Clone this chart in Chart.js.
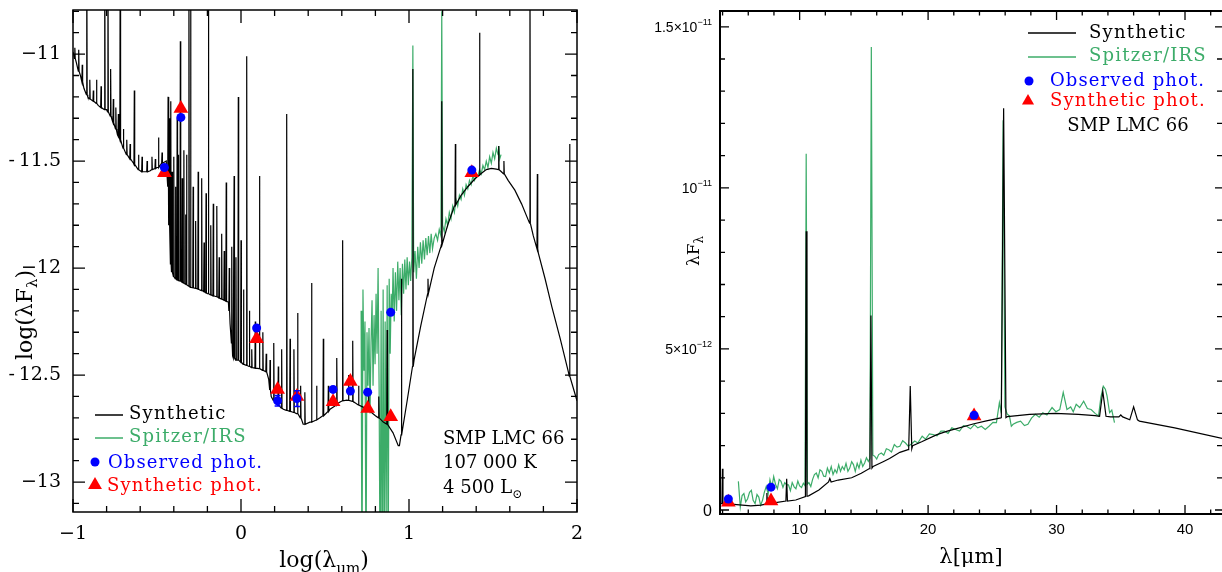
<!DOCTYPE html>
<html><head><meta charset="utf-8">
<script src="https://cdn.jsdelivr.net/npm/chart.js@4.4.1/dist/chart.umd.min.js"></script>
<style>
html,body{margin:0;padding:0;background:#fff;overflow:hidden;width:1222px;height:572px;}
canvas{position:absolute;top:0;}
#c1{left:0;width:600px;height:572px;}
#c2{left:620px;width:602px;height:572px;}
</style></head><body>
<canvas id="c1" width="600" height="572"></canvas>
<canvas id="c2" width="602" height="572"></canvas>
<script>
// ================= LEFT PANEL DATA (log lambda [um], log lambda F_lambda) =================
const leftContLogLam = [-1.000,-0.980,-0.956,-0.935,-0.912,-0.880,-0.850,-0.800,-0.770,-0.740,-0.710,-0.680,-0.640,-0.610,-0.580,-0.540,-0.500,-0.470,-0.445,-0.435,-0.425,-0.415,-0.400,-0.375,-0.340,-0.297,-0.250,-0.200,-0.145,-0.100,-0.075,-0.065,-0.050,-0.046,0.000,0.054,0.110,0.153,0.165,0.180,0.220,0.252,0.330,0.370,0.410,0.470,0.530,0.580,0.630,0.670,0.727,0.749,0.800,0.847,0.870,0.905,0.936,0.943,0.989,1.030,1.070,1.113,1.150,1.190,1.230,1.270,1.310,1.350,1.390,1.430,1.460,1.490,1.520,1.550,1.590,1.630,1.670,1.710,1.740,1.770,1.810,1.850,1.900,1.950,2.000,2.020];
const leftContLogFlux = [-10.99,-11.04,-11.10,-11.16,-11.20,-11.22,-11.24,-11.26,-11.30,-11.36,-11.42,-11.47,-11.51,-11.54,-11.55,-11.545,-11.53,-11.51,-11.50,-11.60,-11.85,-12.01,-12.04,-12.056,-12.07,-12.09,-12.10,-12.12,-12.134,-12.15,-12.16,-12.26,-12.41,-12.42,-12.44,-12.46,-12.47,-12.485,-12.52,-12.60,-12.64,-12.66,-12.68,-12.73,-12.72,-12.70,-12.66,-12.63,-12.617,-12.625,-12.65,-12.66,-12.69,-12.72,-12.73,-12.77,-12.83,-12.83,-12.62,-12.43,-12.27,-12.12,-12.00,-11.90,-11.80,-11.71,-11.66,-11.62,-11.585,-11.558,-11.54,-11.534,-11.538,-11.55,-11.59,-11.636,-11.70,-11.776,-11.85,-11.93,-12.05,-12.18,-12.33,-12.49,-12.62,-12.68];
// emission lines: position, underlying level, peak level
const leftLineLogLam = [-0.989,-0.966,-0.945,-0.918,-0.900,-0.879,-0.860,-0.833,-0.811,-0.792,-0.776,-0.760,-0.745,-0.730,-0.719,-0.700,-0.680,-0.660,-0.635,-0.610,-0.589,-0.559,-0.530,-0.510,-0.491,-0.470,-0.434,-0.427,-0.418,-0.410,-0.400,-0.390,-0.380,-0.372,-0.361,-0.350,-0.340,-0.330,-0.324,-0.310,-0.300,-0.285,-0.270,-0.255,-0.234,-0.220,-0.208,-0.194,-0.180,-0.165,-0.144,-0.130,-0.115,-0.100,-0.088,-0.070,-0.055,-0.041,-0.030,-0.016,0.000,0.015,0.034,0.050,0.064,0.085,0.110,0.130,0.150,0.173,0.195,0.222,0.242,0.272,0.292,0.315,0.337,0.355,0.380,0.420,0.450,0.490,0.520,0.570,0.605,0.640,0.665,0.700,0.760,0.820,0.870,0.955,1.023,1.113,1.195,1.276,1.420,1.534,1.565,1.720,1.764,1.956];
const leftLineBase = [-11.02,-11.08,-11.13,-11.19,-11.21,-11.22,-11.23,-11.25,-11.26,-11.27,-11.29,-11.32,-11.35,-11.38,-11.40,-11.44,-11.47,-11.49,-11.515,-11.54,-11.55,-11.55,-11.54,-11.535,-11.53,-11.51,-11.62,-11.80,-11.98,-12.02,-12.04,-12.05,-12.055,-12.058,-12.06,-12.065,-12.07,-12.075,-12.078,-12.085,-12.09,-12.092,-12.095,-12.098,-12.105,-12.11,-12.115,-12.12,-12.125,-12.13,-12.134,-12.14,-12.145,-12.15,-12.155,-12.20,-12.35,-12.42,-12.43,-12.43,-12.44,-12.45,-12.455,-12.46,-12.465,-12.468,-12.47,-12.478,-12.485,-12.57,-12.62,-12.64,-12.655,-12.665,-12.67,-12.675,-12.68,-12.70,-12.73,-12.72,-12.71,-12.69,-12.67,-12.64,-12.62,-12.618,-12.623,-12.64,-12.665,-12.70,-12.73,-12.78,-12.46,-12.12,-11.89,-11.705,-11.565,-11.54,-11.56,-11.79,-11.91,-12.505];
const leftLinePeak = [-10.97,-10.98,-11.05,-10.5,-11.12,-11.17,-11.12,-11.15,-10.5,-10.5,-11.07,-11.21,-11.25,-11.28,-10.5,-11.35,-11.40,-11.42,-11.17,-11.47,-11.48,-11.50,-11.48,-11.49,-11.39,-11.46,-11.20,-11.30,-11.22,-11.55,-11.48,-11.62,-11.30,-11.47,-10.94,-11.58,-11.45,-11.75,-11.47,-10.5,-10.5,-11.62,-11.78,-11.55,-11.58,-11.88,-11.65,-10.5,-11.80,-11.70,-11.71,-11.95,-11.84,-11.92,-11.60,-12.00,-11.90,-11.57,-11.95,-11.20,-11.87,-12.10,-11.01,-12.20,-12.38,-12.25,-11.57,-12.30,-12.40,-12.43,-12.35,-12.46,-12.38,-11.28,-12.33,-12.38,-12.21,-12.55,-12.58,-12.07,-12.55,-12.33,-12.55,-12.42,-11.87,-12.50,-12.34,-12.55,-12.58,-12.60,-12.29,-12.05,-11.07,-12.05,-11.22,-11.42,-10.90,-11.43,-11.50,-10.5,-11.56,-11.42];
// Spitzer/IRS spectrum in log units
const leftIrsLogLam = [0.715,0.720,0.726,0.732,0.738,0.744,0.750,0.756,0.762,0.768,0.774,0.780,0.786,0.792,0.798,0.804,0.810,0.816,0.822,0.828,0.834,0.840,0.846,0.852,0.858,0.864,0.870,0.876,0.882,0.888,0.894,0.900,0.905,0.912,0.919,0.926,0.933,0.940,0.947,0.954,0.961,0.968,0.975,0.982,0.989,0.996,1.003,1.010,1.017,1.023,1.028,1.036,1.044,1.052,1.060,1.068,1.076,1.084,1.092,1.100,1.108,1.116,1.124,1.132,1.140,1.150,1.160,1.170,1.180,1.190,1.195,1.200,1.210,1.220,1.230,1.240,1.250,1.260,1.270,1.280,1.290,1.300,1.310,1.320,1.330,1.340,1.350,1.360,1.370,1.380,1.390,1.400,1.410,1.420,1.430,1.440,1.450,1.460,1.470,1.480,1.490,1.500,1.510,1.520,1.530,1.535,1.540,1.548];
const leftIrsLogFlux = [-12.20,-13.5,-12.10,-12.48,-12.25,-13.5,-12.30,-12.55,-12.28,-12.68,-12.35,-12.15,-12.55,-12.22,-12.45,-12.12,-12.40,-12.00,-12.55,-13.5,-12.20,-13.5,-12.10,-13.5,-12.25,-13.2,-12.08,-13.5,-12.05,-12.40,-12.12,-12.22,-12.00,-12.25,-12.02,-12.20,-11.97,-12.15,-12.00,-12.22,-11.98,-12.12,-11.96,-12.10,-11.95,-12.08,-11.97,-12.06,-11.95,-10.96,-12.02,-11.92,-12.05,-11.90,-12.00,-11.88,-11.98,-11.87,-11.96,-11.86,-11.94,-11.85,-11.93,-11.84,-11.91,-11.86,-11.84,-11.87,-11.82,-11.85,-10.80,-11.80,-11.83,-11.77,-11.80,-11.74,-11.77,-11.71,-11.74,-11.68,-11.71,-11.66,-11.68,-11.63,-11.66,-11.61,-11.63,-11.59,-11.61,-11.57,-11.59,-11.56,-11.57,-11.54,-11.56,-11.52,-11.54,-11.50,-11.53,-11.48,-11.51,-11.46,-11.49,-11.44,-11.47,-11.43,-11.49,-11.47];
// photometry
const leftPhotLogLam = [-0.456,-0.358,0.093,0.218,0.333,0.548,0.651,0.754,0.891,1.374];
const leftObsLogFlux = [-11.53,-11.296,-12.28,-12.62,-12.61,-12.567,-12.575,-12.58,-12.207,-11.542];
const leftObsErr     = [0,0,0,0.025,0.037,0,0,0,0,0];
const leftSynLogFlux = [-11.555,-11.254,-12.33,-12.567,-12.60,-12.625,-12.53,-12.656,-12.695,-11.555];
const leftXTicks = [-1,0,1,2];
const leftXTickLabels = ['\u22121','0','1','2'];
const leftYTicks = [-11,-11.5,-12,-12.5,-13];
const leftYTickLabels = ['\u221211','-\u200911.5','\u221212','-\u200912.5','\u221213'];

// ================= RIGHT PANEL DATA (lambda [um], lambda F_lambda in 1e-12 units) =================
const rightContLam = [3.80,4.50,5.10,6.20,7.00,7.40,8.00,9.00,9.70,10.45,10.70,11.50,12.30,13.00,14.05,14.80,15.40,15.72,16.50,17.00,17.80,18.44,18.80,19.50,20.69,21.50,22.43,23.50,24.45,25.66,26.18,27.90,29.90,31.70,33.00,34.20,35.00,35.72,36.45,39.20,42.90];
const rightContFlux = [0.20,0.19,0.17,0.13,0.15,0.19,0.22,0.28,0.31,0.42,0.44,0.62,0.86,0.93,1.00,1.14,1.28,1.35,1.50,1.60,1.79,1.875,2.00,2.12,2.34,2.45,2.55,2.67,2.76,2.86,2.90,2.97,3.00,2.97,2.93,2.89,2.89,2.81,2.76,2.55,2.22];
const rightLineLam  = [3.99,7.45,8.99,10.51,12.35,15.55,18.61,25.88,33.60,35.00,36.00];
const rightLineBase = [0.20,0.19,0.28,0.43,0.87,1.30,1.90,2.87,2.91,2.89,2.80];
const rightLinePeak = [1.28,0.53,0.97,8.65,0.98,6.04,3.85,12.47,3.69,2.95,3.20];
const rightLineHalfWidth = [0.04,0.05,0.06,0.06,0.10,0.08,0.12,0.18,0.25,0.15,0.30];
const rightIrsLam = [5.23,5.38,5.52,5.66,5.80,5.95,6.10,6.24,6.38,6.53,6.68,6.82,6.96,7.11,7.25,7.40,7.55,7.69,7.84,7.98,8.12,8.27,8.41,8.55,8.70,8.84,8.99,9.13,9.28,9.42,9.57,9.71,9.86,10.00,10.15,10.29,10.42,10.51,10.60,10.72,10.87,11.01,11.15,11.30,11.44,11.58,11.73,11.87,12.02,12.16,12.31,12.46,12.60,12.75,12.89,13.04,13.18,13.32,13.47,13.61,13.76,13.90,14.05,14.19,14.33,14.48,14.62,14.77,14.91,15.06,15.20,15.35,15.47,15.58,15.70,15.84,16.00,16.15,16.36,16.55,16.75,16.94,17.15,17.37,17.58,17.80,18.02,18.24,18.45,18.70,18.96,19.20,19.54,19.80,20.10,20.40,20.70,21.00,21.27,21.55,21.85,22.14,22.45,22.75,23.00,23.30,23.60,23.87,24.15,24.45,24.74,25.05,25.32,25.55,25.70,25.84,25.98,26.15,26.33,26.48,26.62,26.90,27.20,27.50,27.77,28.05,28.35,28.65,28.93,29.25,29.65,29.95,30.25,30.52,30.81,31.10,31.30,31.53,31.80,32.11,32.40,32.69,33.00,33.27,33.45,33.64,33.80,33.93,34.13,34.30,34.51];
const rightIrsFlux = [0.89,0.09,0.45,0.51,0.25,0.35,0.55,0.61,0.30,0.20,0.48,0.40,0.15,0.30,0.55,0.73,0.50,0.94,0.70,1.04,0.80,0.66,0.95,0.89,0.70,0.85,0.78,0.78,0.60,0.85,0.72,0.66,0.90,0.75,0.70,0.83,0.75,11.06,0.80,0.85,0.73,0.95,1.10,1.15,1.00,1.25,1.20,1.05,1.04,1.30,1.15,1.35,1.10,1.25,1.15,1.40,1.20,1.35,1.25,1.45,1.20,1.30,1.50,1.41,1.20,1.45,1.30,1.55,1.35,1.46,1.62,1.51,1.60,14.37,1.70,1.67,1.58,1.72,1.77,1.70,1.90,1.87,1.80,2.03,1.95,1.98,2.15,2.08,1.98,2.05,2.14,2.08,2.29,2.20,2.36,2.34,2.30,2.45,2.45,2.38,2.55,2.50,2.45,2.62,2.60,2.52,2.65,2.55,2.60,2.50,2.60,2.72,2.71,3.33,3.00,12.10,3.20,2.98,2.92,2.60,2.66,2.72,2.76,2.62,2.66,2.85,2.97,2.88,3.02,2.95,3.18,3.05,3.12,3.65,3.12,3.20,3.05,3.28,3.18,3.38,3.15,3.12,3.00,2.92,3.50,3.84,3.75,3.54,3.02,3.10,2.71];
const rightPhotLam = [4.45,7.77,23.58];
const rightObsFlux = [0.34,0.71,2.94];
const rightSynFlux = [0.24,0.28,2.92];
const rightXTicks = [10,20,30,40];
const rightYTicks = [0,5,10,15];
const rightYTickMant = ['0','5\u00d710','10','1.5\u00d710'];
const rightYTickExp  = ['','\u221212','\u221211','\u221211'];

// ================= helpers =================
const GREEN = 'rgb(60,172,105)';
const SERIF = '"DejaVu Serif", serif';
const SANS = '"Liberation Sans", Arial, sans-serif';

function buildSpectrum(cx, cy, lx, lb, lp, hw) {
  const pts = [];
  for (let i = 0; i < cx.length; i++) {
    let inside = false;
    for (let j = 0; j < lx.length; j++) if (Math.abs(cx[i] - lx[j]) < hw[j]) { inside = true; break; }
    if (!inside) pts.push({x: cx[i], y: cy[i]});
  }
  for (let j = 0; j < lx.length; j++) {
    pts.push({x: lx[j] - hw[j], y: lb[j]});
    pts.push({x: lx[j], y: lp[j]});
    pts.push({x: lx[j] + hw[j], y: lb[j]});
  }
  pts.sort((a, b) => a.x - b.x);
  return pts;
}
const zip = (xs, ys) => xs.map((x, i) => ({x, y: ys[i]}));

function drawParts(ctx, parts, x, y, align) {
  let w = 0;
  parts.forEach(p => { ctx.font = p.font; p.w = ctx.measureText(p.t).width; w += p.w; });
  let sx = align === 'center' ? x - w / 2 : align === 'right' ? x - w : x;
  ctx.textAlign = 'left';
  parts.forEach(p => { ctx.font = p.font; ctx.fillText(p.t, sx, y + (p.dy || 0)); sx += p.w; });
}
function tri(ctx, x, y, r) {
  ctx.beginPath();
  ctx.moveTo(x, y - r);
  ctx.lineTo(x + r * 0.866, y + r * 0.5);
  ctx.lineTo(x - r * 0.866, y + r * 0.5);
  ctx.closePath(); ctx.fill();
}
function spaced(ctx, s, x, y, sp) {
  ctx.letterSpacing = sp; ctx.fillText(s, x, y); ctx.letterSpacing = '0px';
}

function baseOptions(xmin, xmax, ymin, ymax, pad, yW, xH) {
  return {
    responsive: false, animation: false, devicePixelRatio: 1, events: [],
    layout: {padding: pad, autoPadding: false},
    plugins: {legend: {display: false}, tooltip: {enabled: false}},
    scales: {
      x: {type: 'linear', min: xmin, max: xmax, grid: {display: false, drawTicks: false}, border: {display: false}, ticks: {display: false}, afterFit(s) { s.height = xH; }},
      y: {type: 'linear', min: ymin, max: ymax, grid: {display: false, drawTicks: false}, border: {display: false}, ticks: {display: false}, afterFit(s) { s.width = yW; }}
    }
  };
}

// ================= LEFT CHART =================
const leftSynth = buildSpectrum(leftContLogLam, leftContLogFlux, leftLineLogLam, leftLineBase, leftLinePeak, leftLineLogLam.map(() => 0.0022));
const leftPlugin = {
  id: 'leftDecor',
  afterDatasetsDraw(chart) {
    const ctx = chart.ctx, a = chart.chartArea, xs = chart.scales.x, ys = chart.scales.y;
    ctx.save();
    ctx.strokeStyle = '#0000ff'; ctx.lineWidth = 1.5;
    leftPhotLogLam.forEach((v, i) => {
      if (!leftObsErr[i]) return;
      const px = xs.getPixelForValue(v);
      const y1 = ys.getPixelForValue(leftObsLogFlux[i] - leftObsErr[i]);
      const y2 = ys.getPixelForValue(leftObsLogFlux[i] + leftObsErr[i]);
      ctx.beginPath(); ctx.moveTo(px, y1); ctx.lineTo(px, y2);
      ctx.moveTo(px - 3, y1); ctx.lineTo(px + 3, y1); ctx.moveTo(px - 3, y2); ctx.lineTo(px + 3, y2); ctx.stroke();
    });
    ctx.strokeStyle = '#000'; ctx.lineWidth = 1.5;
    ctx.strokeRect(a.left, a.top, a.right - a.left, a.bottom - a.top);
    ctx.lineWidth = 1.3;
    ctx.beginPath();
    for (let k = -5; k <= 10; k++) {
      const v = k / 5; const px = xs.getPixelForValue(v);
      if (px < a.left - 0.5 || px > a.right + 0.5) continue;
      const L = (k % 5 === 0) ? 13 : 6;
      ctx.moveTo(px, a.bottom); ctx.lineTo(px, a.bottom - L);
      ctx.moveTo(px, a.top); ctx.lineTo(px, a.top + L);
    }
    for (let k = -131; k <= -108; k++) {
      const v = k / 10; const py = ys.getPixelForValue(v);
      if (py < a.top || py > a.bottom) continue;
      const L = (k % 5 === 0) ? 12 : 6;
      ctx.moveTo(a.left, py); ctx.lineTo(a.left + L, py);
      ctx.moveTo(a.right, py); ctx.lineTo(a.right - L, py);
    }
    ctx.stroke();
    ctx.fillStyle = '#000'; ctx.font = '19px ' + SERIF; ctx.textBaseline = 'middle';
    ctx.textAlign = 'center';
    leftXTicks.forEach((v, i) => ctx.fillText(leftXTickLabels[i], xs.getPixelForValue(v), 534));
    ctx.textAlign = 'right';
    leftYTicks.forEach((v, i) => ctx.fillText(leftYTickLabels[i], 61, ys.getPixelForValue(v)));
    ctx.textBaseline = 'alphabetic';
    drawParts(ctx, [{t: 'log(\u03bb', font: '22px ' + SERIF}, {t: '\u03bcm', font: '15px ' + SERIF, dy: 6}, {t: ')', font: '22px ' + SERIF}], 324, 567, 'center');
    ctx.save(); ctx.translate(24, 315); ctx.rotate(-Math.PI / 2);
    drawParts(ctx, [{t: 'log(\u03bbF', font: '22px ' + SERIF}, {t: '\u03bb', font: '15px ' + SERIF, dy: 5}, {t: ')', font: '22px ' + SERIF}], 0, 8, 'center');
    ctx.restore();
    // legend
    ctx.lineWidth = 1.5;
    ctx.strokeStyle = '#000'; ctx.beginPath(); ctx.moveTo(95, 415); ctx.lineTo(123, 415); ctx.stroke();
    ctx.strokeStyle = GREEN; ctx.beginPath(); ctx.moveTo(95, 438); ctx.lineTo(123, 438); ctx.stroke();
    ctx.fillStyle = '#0000ff'; ctx.beginPath(); ctx.arc(95, 462, 4.5, 0, Math.PI * 2); ctx.fill();
    ctx.fillStyle = '#ff0000'; tri(ctx, 95, 485, 8);
    ctx.textBaseline = 'middle'; ctx.textAlign = 'left'; ctx.font = '18px ' + SERIF;
    ctx.fillStyle = '#000'; spaced(ctx, 'Synthetic', 129, 414, '1.2px');
    ctx.fillStyle = GREEN; spaced(ctx, 'Spitzer/IRS', 129, 437, '1.2px');
    ctx.fillStyle = '#0000ff'; spaced(ctx, 'Observed phot.', 108, 463, '1.1px');
    ctx.fillStyle = '#ff0000'; spaced(ctx, 'Synthetic phot.', 107, 486, '1.1px');
    ctx.fillStyle = '#000';
    ctx.fillText('SMP LMC 66', 443, 439);
    ctx.fillText('107 000 K', 443, 463);
    ctx.textBaseline = 'alphabetic';
    drawParts(ctx, [{t: '4 500 L', font: '18px ' + SERIF}, {t: '\u2299', font: '12px ' + SERIF, dy: 5}], 443, 493, 'left');
    ctx.restore();
  }
};
new Chart(document.getElementById('c1'), {
  type: 'scatter',
  data: {datasets: [
    {data: zip(leftPhotLogLam, leftObsLogFlux), pointStyle: 'circle', pointRadius: 4.5, backgroundColor: '#0000ff', borderWidth: 0, order: 0},
    {data: zip(leftPhotLogLam, leftSynLogFlux), pointStyle: 'triangle', pointRadius: 8.5, backgroundColor: '#ff0000', borderWidth: 0, order: 1},
    {data: leftSynth, showLine: true, pointRadius: 0, borderColor: '#000', borderWidth: 1.2, tension: 0, clip: 0, order: 2},
    {data: zip(leftIrsLogLam, leftIrsLogFlux), showLine: true, pointRadius: 0, borderColor: GREEN, borderWidth: 1.2, tension: 0, clip: 0, order: 3}
  ]},
  options: baseOptions(-1, 2, -13.14, -10.794, {left: 0, right: 23, top: 10, bottom: 0}, 73, 60),
  plugins: [leftPlugin]
});

// ================= RIGHT CHART =================
const rightSynth = buildSpectrum(rightContLam, rightContFlux, rightLineLam, rightLineBase, rightLinePeak, rightLineHalfWidth);
const OFF = 620;
const rightPlugin = {
  id: 'rightDecor',
  afterDatasetsDraw(chart) {
    const ctx = chart.ctx, a = chart.chartArea, xs = chart.scales.x, ys = chart.scales.y;
    ctx.save();
    ctx.strokeStyle = '#000'; ctx.lineWidth = 2;
    ctx.beginPath();
    ctx.moveTo(a.right + 2, a.top); ctx.lineTo(a.left, a.top); ctx.lineTo(a.left, a.bottom); ctx.lineTo(a.right + 2, a.bottom);
    ctx.stroke();
    ctx.lineWidth = 1.3; ctx.beginPath();
    for (let v = 4; v <= 42; v += 2) {
      const px = xs.getPixelForValue(v);
      const L = (v % 10 === 0) ? 9 : 4.5;
      ctx.moveTo(px, a.bottom); ctx.lineTo(px, a.bottom - L);
      ctx.moveTo(px, a.top); ctx.lineTo(px, a.top + L);
    }
    for (let v = 0; v <= 15; v += 1) {
      const py = ys.getPixelForValue(v);
      const L = (v % 5 === 0) ? 9 : 5;
      ctx.moveTo(a.left, py); ctx.lineTo(a.left + L, py);
      ctx.moveTo(a.right, py); ctx.lineTo(a.right - (v % 5 === 0 ? 7 : 5), py);
    }
    ctx.stroke();
    ctx.fillStyle = '#000'; ctx.textBaseline = 'middle'; ctx.textAlign = 'center'; ctx.font = '15px ' + SANS;
    rightXTicks.forEach(v => ctx.fillText(String(v), xs.getPixelForValue(v), 530));
    ctx.textBaseline = 'alphabetic';
    rightYTicks.forEach((v, i) => {
      const py = ys.getPixelForValue(v);
      if (rightYTickExp[i]) drawParts(ctx, [{t: rightYTickMant[i], font: '14px ' + SANS}, {t: rightYTickExp[i], font: '9px ' + SANS, dy: -7}], 712 - OFF, py + 5, 'right');
      else drawParts(ctx, [{t: rightYTickMant[i], font: '16px ' + SANS}], 712 - OFF, py + 6, 'right');
    });
    ctx.font = '21px ' + SERIF; ctx.textAlign = 'center'; ctx.textBaseline = 'alphabetic';
    ctx.fillText('\u03bb[\u03bcm]', 971 - OFF, 563);
    ctx.save(); ctx.translate(692 - OFF, 251); ctx.rotate(-Math.PI / 2);
    drawParts(ctx, [{t: '\u03bbF', font: '17px ' + SERIF}, {t: '\u03bb', font: '12px ' + SERIF, dy: 4}], 0, 7, 'center');
    ctx.restore();
    ctx.lineWidth = 1.5;
    ctx.strokeStyle = '#000'; ctx.beginPath(); ctx.moveTo(1028 - OFF, 33); ctx.lineTo(1076 - OFF, 33); ctx.stroke();
    ctx.strokeStyle = GREEN; ctx.beginPath(); ctx.moveTo(1028 - OFF, 57); ctx.lineTo(1076 - OFF, 57); ctx.stroke();
    ctx.fillStyle = '#0000ff'; ctx.beginPath(); ctx.arc(1029 - OFF, 81, 4.5, 0, Math.PI * 2); ctx.fill();
    ctx.fillStyle = '#ff0000'; tri(ctx, 1028 - OFF, 101, 7);
    ctx.textBaseline = 'middle'; ctx.textAlign = 'left'; ctx.font = '18px ' + SERIF;
    ctx.fillStyle = '#000'; spaced(ctx, 'Synthetic', 1089 - OFF, 33, '1.2px');
    ctx.fillStyle = GREEN; spaced(ctx, 'Spitzer/IRS', 1089 - OFF, 56, '1.2px');
    ctx.fillStyle = '#0000ff'; spaced(ctx, 'Observed phot.', 1050 - OFF, 81, '1.1px');
    ctx.fillStyle = '#ff0000'; spaced(ctx, 'Synthetic phot.', 1050 - OFF, 101, '1.1px');
    ctx.fillStyle = '#000'; ctx.textAlign = 'center';
    ctx.fillText('SMP LMC 66', 1128 - OFF, 126);
    ctx.restore();
  }
};
new Chart(document.getElementById('c2'), {
  type: 'scatter',
  data: {datasets: [
    {data: zip(rightPhotLam, rightObsFlux), pointStyle: 'circle', pointRadius: 4.5, backgroundColor: '#0000ff', borderWidth: 0, order: 0},
    {data: zip(rightPhotLam, rightSynFlux), pointStyle: 'triangle', pointRadius: 8.5, backgroundColor: '#ff0000', borderWidth: 0, order: 1},
    {data: rightSynth, showLine: true, pointRadius: 0, borderColor: '#000', borderWidth: 1.2, tension: 0, clip: 0, order: 2},
    {data: zip(rightIrsLam, rightIrsFlux), showLine: true, pointRadius: 0, borderColor: GREEN, borderWidth: 1.2, tension: 0, clip: 0, order: 3}
  ]},
  options: baseOptions(3.80, 42.88, -0.124, 15.49, {left: 0, right: 0, top: 11, bottom: 0}, 100, 58),
  plugins: [rightPlugin]
});
</script></body></html>
